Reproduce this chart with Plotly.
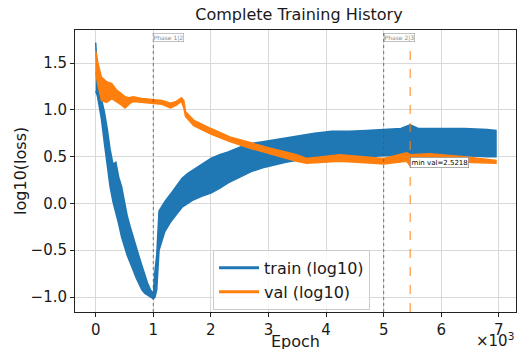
import plotly.graph_objects as go

# ---- data (log10 loss envelopes) ----
train_epochs = [0, 30, 60, 100, 150, 200, 250, 300, 350, 400, 450, 500, 550, 600, 650, 700, 750,
                800, 850, 900, 950, 1000, 1030, 1060, 1100, 1150, 1200, 1300, 1400, 1500, 1600,
                1700, 1850, 2000, 2150, 2300, 2500, 2700, 2900, 3100, 3300, 3500, 3800, 4100,
                4400, 4700, 5000, 5300, 5460, 5600, 6000, 6400, 6800, 6950]
train_low = [1.20, 1.15, 1.05, 0.90, 0.65, 0.40, 0.18, 0.02, -0.10, -0.22, -0.36, -0.46, -0.56,
             -0.64, -0.71, -0.79, -0.86, -0.92, -0.96, -0.98, -1.00, -1.02, -1.00, -0.92, -0.50,
             -0.40, -0.30, -0.20, -0.12, -0.04, 0.00, 0.04, 0.08, 0.11, 0.16, 0.22, 0.28, 0.34,
             0.38, 0.41, 0.44, 0.46, 0.48, 0.49, 0.50, 0.50, 0.51, 0.51, 0.51, 0.51, 0.51, 0.51,
             0.50, 0.50]
train_high = [1.72, 1.40, 1.22, 1.12, 0.98, 0.80, 0.58, 0.42, 0.44, 0.28, 0.18, 0.02, -0.14,
              -0.25, -0.36, -0.46, -0.56, -0.66, -0.76, -0.85, -0.92, -0.97, -0.72, -0.55, -0.08,
              -0.03, 0.02, 0.10, 0.18, 0.27, 0.32, 0.36, 0.42, 0.48, 0.52, 0.55, 0.60, 0.64,
              0.66, 0.68, 0.70, 0.72, 0.75, 0.77, 0.77, 0.78, 0.79, 0.80, 0.84, 0.80, 0.80, 0.80,
              0.79, 0.78]

val_epochs = [0, 35, 100, 190, 280, 365, 450, 510, 580, 650, 800, 1000, 1150, 1300, 1400, 1490,
              1530, 1560, 1700, 2000, 2330, 2680, 3030, 3490, 3660, 4240, 4820, 5000, 5400,
              5460, 5800, 6400, 6950]
val_low = [1.40, 1.28, 1.10, 1.08, 1.12, 1.09, 1.05, 1.02, 1.06, 1.09, 1.08, 1.07, 1.06, 1.02,
           1.05, 1.09, 1.02, 0.93, 0.83, 0.74, 0.66, 0.59, 0.53, 0.45, 0.43, 0.45, 0.43, 0.42,
           0.45, 0.40, 0.45, 0.44, 0.43]
val_high = [1.63, 1.51, 1.35, 1.30, 1.28, 1.21, 1.17, 1.14, 1.13, 1.14, 1.12, 1.11, 1.10, 1.07,
            1.09, 1.13, 1.10, 0.98, 0.89, 0.80, 0.71, 0.65, 0.59, 0.52, 0.48, 0.52, 0.49, 0.48,
            0.54, 0.52, 0.53, 0.50, 0.46]

phase_epochs = [1000, 5000]
phase_labels = ["Phase 1|2", "Phase 2|3"]
min_val_epoch = 5460
min_val_text = "min val=2.5218"
x_tick_vals = [0, 1000, 2000, 3000, 4000, 5000, 6000, 7000]
x_tick_text = ["0", "1", "2", "3", "4", "5", "6", "7"]
y_tick_vals = [-1.0, -0.5, 0.0, 0.5, 1.0, 1.5]
y_tick_text = ["\u22121.0", "\u22120.5", "0.0", "0.5", "1.0", "1.5"]

BLUE = "#1f77b4"
ORANGE = "#ff7f0e"
FONT = "DejaVu Sans"
TXT = "#1a1a1a"

fig = go.Figure()


def band(xs, lo, hi, color):
    return go.Scatter(
        x=list(xs) + list(xs)[::-1],
        y=list(hi) + list(lo)[::-1],
        fill="toself", fillcolor=color,
        line=dict(color=color, width=1.5),
        mode="lines", showlegend=False, hoverinfo="skip")


fig.add_trace(band(train_epochs, train_low, train_high, BLUE))
fig.add_trace(band(val_epochs, val_low, val_high, ORANGE))

# legend entries
fig.add_trace(go.Scatter(x=[None], y=[None], mode="lines", name="train (log10)",
                         line=dict(color=BLUE, width=3)))
fig.add_trace(go.Scatter(x=[None], y=[None], mode="lines", name="val (log10)",
                         line=dict(color=ORANGE, width=3)))

shapes = []
annotations = []
for ep, lab in zip(phase_epochs, phase_labels):
    shapes.append(dict(type="line", xref="x", yref="paper", x0=ep, x1=ep, y0=0, y1=1,
                       line=dict(color="#555555", width=0.8, dash="dot")))
    annotations.append(dict(x=ep, y=0.99, xref="x", yref="paper", text=lab, showarrow=False,
                            xanchor="left", yanchor="top",
                            font=dict(size=6, color="#888888", family=FONT),
                            bordercolor="#999999", borderwidth=0.6, borderpad=0, bgcolor="white"))

shapes.append(dict(type="line", xref="x", yref="paper", x0=min_val_epoch, x1=min_val_epoch,
                   y0=0, y1=1, line=dict(color=ORANGE, width=1.3, dash="dash"), opacity=0.75))
annotations.append(dict(x=min_val_epoch, y=0.44, xref="x", yref="y", text=min_val_text,
                        showarrow=False, xanchor="left", yanchor="middle",
                        font=dict(size=7, color="black", family=FONT),
                        bordercolor="#777777", borderwidth=0.6, borderpad=1, bgcolor="white"))
annotations.append(dict(x=1.0, y=-0.1, xref="paper", yref="paper", text="\u00d710<sup>3</sup>",
                        showarrow=False, xanchor="right", yanchor="middle",
                        font=dict(size=15, color=TXT, family=FONT)))
annotations.append(dict(x=0.5, y=-0.103, xref="paper", yref="paper", text="Epoch",
                        showarrow=False, xanchor="center", yanchor="middle",
                        font=dict(size=16, color=TXT, family=FONT)))
annotations.append(dict(x=-0.125, y=0.5, xref="paper", yref="paper", text="log10(loss)",
                        showarrow=False, xanchor="center", yanchor="middle", textangle=-90,
                        font=dict(size=16, color=TXT, family=FONT)))

fig.update_layout(
    width=519, height=349,
    margin=dict(l=75, r=3, t=30, b=37),
    paper_bgcolor="white", plot_bgcolor="white",
    font=dict(family=FONT, color=TXT),
    title=dict(text="Complete Training History", x=0.576, xanchor="center",
               y=1 - 14 / 349, yanchor="middle", font=dict(size=16, family=FONT, color=TXT)),
    showlegend=True,
    legend=dict(x=0.313, y=0.22, xanchor="left", yanchor="top",
                bgcolor="rgba(255,255,255,0.8)", bordercolor="#cccccc", borderwidth=1,
                font=dict(size=16, family=FONT, color=TXT), itemwidth=40),
    shapes=shapes, annotations=annotations,
)
fig.update_xaxes(range=[-359, 7297], tickvals=x_tick_vals, ticktext=x_tick_text,
                 showgrid=True, gridcolor="#d9d9d9", gridwidth=1, zeroline=False,
                 showline=True, linecolor="#222222", linewidth=1, mirror=True,
                 ticks="outside", ticklen=4, tickcolor="#222222",
                 tickfont=dict(size=15, family=FONT, color=TXT))
fig.update_yaxes(range=[-1.16, 1.853], tickvals=y_tick_vals, ticktext=y_tick_text,
                 showgrid=True, gridcolor="#d9d9d9", gridwidth=1, zeroline=False,
                 showline=True, linecolor="#222222", linewidth=1, mirror=True,
                 ticks="outside", ticklen=4, tickcolor="#222222",
                 tickfont=dict(size=15, family=FONT, color=TXT))

fig.write_html("out.html")
